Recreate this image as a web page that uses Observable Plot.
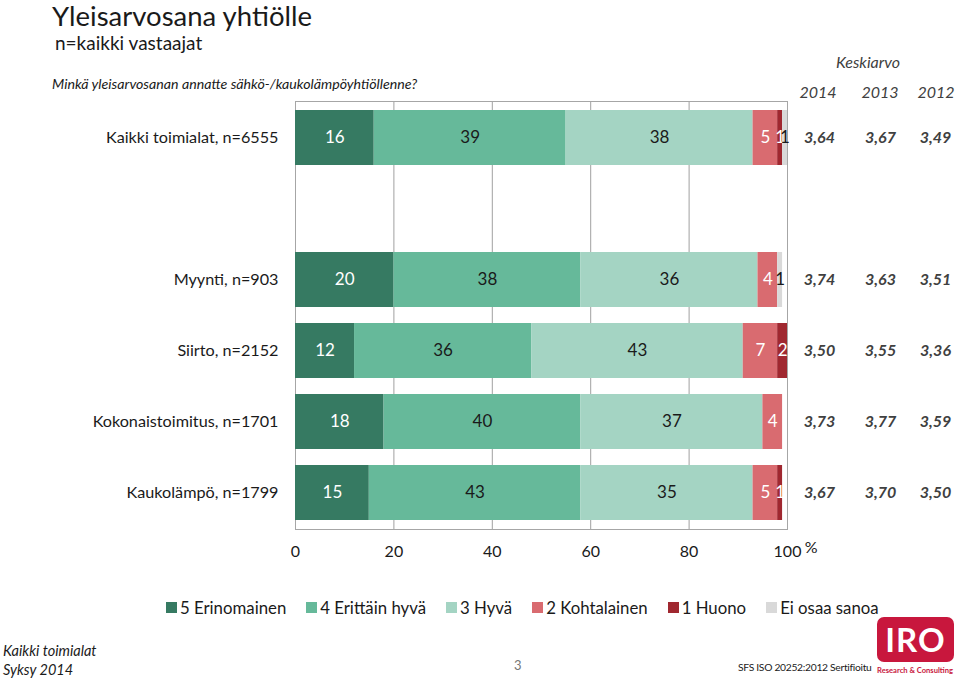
<!DOCTYPE html>
<html>
<head>
<meta charset="utf-8">
<script src="https://cdn.jsdelivr.net/npm/d3@7"></script>
<script src="https://cdn.jsdelivr.net/npm/@observablehq/plot@0.6"></script>
<style>
  html, body { margin: 0; padding: 0; background: #fff; }
  body { width: 960px; height: 679px; position: relative; overflow: hidden; font-family: Lato, "Open Sans", sans-serif; color: #1a1a1a; }
  .abs { position: absolute; white-space: nowrap; }
  #legend { position: absolute; left: 166px; top: 597px; display: flex; align-items: center; font-size: 16.8px; color: #1a1a1a; }
  #legend .item { display: flex; align-items: center; margin-right: 20px; }
  #legend .sw { width: 11px; height: 11px; margin-right: 3px; }
  .hdr { font-style: italic; font-size: 16px; color: #404040; transform: translateX(-50%); }
</style>
</head>
<body>
<div class="abs" style="left:52px; top:-1px; font-size:27.5px; line-height:34px;">Yleisarvosana yhtiölle</div>
<div class="abs" style="left:55px; top:31px; font-size:19px;">n=kaikki vastaajat</div>
<div class="abs" style="left:52px; top:75px; font-size:14.2px; font-style:italic;">Minkä yleisarvosanan annatte sähkö-/kaukolämpöyhtiöllenne?</div>
<div class="abs hdr" style="left:868px; top:52px;">Keskiarvo</div>
<div class="abs hdr" style="left:818px; top:82px;">2014</div>
<div class="abs hdr" style="left:880px; top:82px;">2013</div>
<div class="abs hdr" style="left:936px; top:82px;">2012</div>
<div id="chart" class="abs" style="left:0; top:95px;"></div>
<div id="legend"></div>
<div class="abs" style="left:3px; top:642px; font-size:14.5px; font-style:italic;">Kaikki toimialat</div>
<div class="abs" style="left:3px; top:661px; font-size:14.5px; font-style:italic;">Syksy 2014</div>
<div class="abs" style="left:514px; top:657px; font-size:13px; color:#777;">3</div>
<div class="abs" style="left:738px; top:661px; font-size:10.3px; letter-spacing:-0.3px;">SFS ISO 20252:2012 Sertifioitu</div>
<div class="abs" style="left:877px; top:617px; width:77px; height:45px; background:#c8173d; border-radius:7px; color:#fff; font-weight:bold; font-size:33px; line-height:45px; text-align:center; letter-spacing:1px;">IRO</div>
<div class="abs" style="left:877px; top:665px; font-size:7.6px; color:#c8173d; font-weight:bold;">Research &amp; Consulting</div>
<script>
const categories = ["Kaikki toimialat, n=6555", "Myynti, n=903", "Siirto, n=2152", "Kokonaistoimitus, n=1701", "Kaukolämpö, n=1799"];
const spacer = " ";
const series = ["5 Erinomainen", "4 Erittäin hyvä", "3 Hyvä", "2 Kohtalainen", "1 Huono", "Ei osaa sanoa"];
const colors = ["#367a62", "#66b99a", "#a4d4c3", "#d96b70", "#a02830", "#d9d9d9"];
const labelColors = ["#ffffff", "#1a1a1a", "#1a1a1a", "#ffffff", "#ffffff", "#1a1a1a"];
const erinomainen = [16, 20, 12, 18, 15];
const erittainHyva = [39, 38, 36, 40, 43];
const hyva = [38, 36, 43, 37, 35];
const kohtalainen = [5, 4, 7, 4, 5];
const huono = [1, 0, 2, 0, 1];
const eiOsaa = [1, 1, 0, 0, 0];
const avg2014 = ["3,64", "3,74", "3,50", "3,73", "3,67"];
const avg2013 = ["3,67", "3,63", "3,55", "3,77", "3,70"];
const avg2012 = ["3,49", "3,51", "3,36", "3,59", "3,50"];
const xTicks = [0, 20, 40, 60, 80, 100];

const seriesValues = [erinomainen, erittainHyva, hyva, kohtalainen, huono, eiOsaa];
const rows = [];
categories.forEach((cat, i) => {
  series.forEach((s, j) => {
    rows.push({cat, series: s, value: seriesValues[j][i], labelColor: labelColors[j]});
  });
});
const avgRows = categories.map((cat, i) => ({cat, a14: avg2014[i], a13: avg2013[i], a12: avg2012[i]}));
const yDomain = [categories[0], spacer, ...categories.slice(1)];

const whiteLabel = d => (d.value > 0 && d.labelColor === "#ffffff") ? String(d.value) : "";
const darkLabel = d => (d.value > 0 && d.labelColor !== "#ffffff") ? String(d.value) : "";

const avgStyle = {fontSize: 16, fontStyle: "italic", fontWeight: "bold", fill: "#404040", frameAnchor: "right", textAnchor: "middle"};

const plot = Plot.plot({
  width: 960,
  height: 469,
  marginLeft: 295,
  marginRight: 173,
  marginTop: 6,
  marginBottom: 35,
  style: {fontFamily: "Lato, 'Open Sans', sans-serif", fontSize: "16px", color: "#1a1a1a", background: "transparent"},
  x: {domain: [0, 100], label: null},
  y: {domain: yDomain, paddingInner: 0.23, paddingOuter: 0.115, label: null},
  color: {domain: series, range: colors},
  marks: [
    Plot.gridX(xTicks.filter(t => t > 0 && t < 100), {stroke: "#a0a0a0", strokeOpacity: 1}),
    Plot.frame({stroke: "#a6a6a6"}),
    Plot.barX(rows, Plot.stackX({x: "value", y: "cat", fill: "series"})),
    Plot.text(rows, Plot.stackX({x: "value", y: "cat", text: whiteLabel, fill: "#ffffff", fontSize: 17})),
    Plot.text(rows, Plot.stackX({x: "value", y: "cat", text: darkLabel, fill: "#1a1a1a", fontSize: 17})),
    Plot.text(avgRows, {y: "cat", text: "a14", dx: 32, ...avgStyle}),
    Plot.text(avgRows, {y: "cat", text: "a13", dx: 93, ...avgStyle}),
    Plot.text(avgRows, {y: "cat", text: "a12", dx: 148, ...avgStyle}),
    Plot.axisY({tickSize: 0, tickPadding: 17, fontSize: 16.2, label: null}),
    Plot.axisX({ticks: xTicks, tickSize: 0, tickPadding: 16, fontSize: 16, label: null}),
    Plot.text(["%"], {frameAnchor: "bottom-right", dx: 30, dy: 23, fontSize: 16, fill: "#1a1a1a"})
  ]
});
document.getElementById("chart").appendChild(plot);

const legend = document.getElementById("legend");
series.forEach((s, j) => {
  const item = document.createElement("div");
  item.className = "item";
  const sw = document.createElement("div");
  sw.className = "sw";
  sw.style.background = colors[j];
  const t = document.createElement("span");
  t.textContent = s;
  item.appendChild(sw);
  item.appendChild(t);
  legend.appendChild(item);
});
</script>
</body>
</html>
